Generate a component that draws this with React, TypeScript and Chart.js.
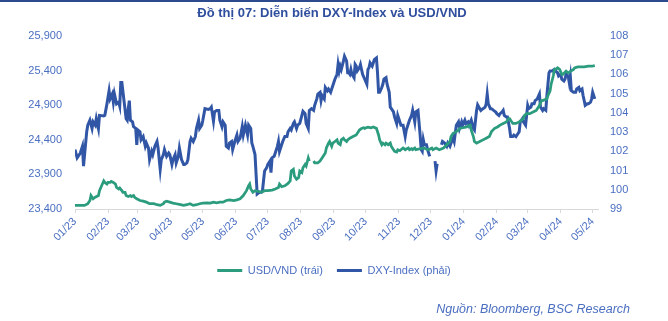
import React, { useEffect, useRef } from 'react';
import { Chart, registerables } from 'chart.js';

Chart.register(...registerables);

// ---- Data ----
const titleText = 'Đồ thị 07: Diễn biến DXY-Index và USD/VND';
const sourceText = 'Nguồn: Bloomberg, BSC Research';
const seriesNames = ['USD/VND (trái)', 'DXY-Index (phải)'];

// month tick labels (MM/YY)
const tickLabels = [
  '01/23', '02/23', '03/23', '04/23', '05/23', '06/23', '07/23', '08/23', '09/23',
  '10/23', '11/23', '12/23', '01/24', '02/24', '03/24', '04/24', '05/24',
];

// days since 2023-01-01
const usdVndDays = [
  0, 5, 9, 12, 14, 15, 17, 19, 22, 23, 25, 27, 28, 30, 31, 33, 34, 36, 38, 39, 41, 42, 44, 45, 47, 48,
  50, 52, 53, 55, 56, 58, 61, 64, 67, 70, 74, 77, 80, 83, 84, 86, 89, 92, 95, 98, 102, 105, 108, 111,
  114, 117, 120, 124, 127, 130, 133, 136, 139, 142, 145, 149, 152, 155, 158, 161, 163, 164, 165, 167,
  169, 172, 175, 178, 181, 185, 188, 191, 192, 194, 197, 200, 202, 203, 205, 206, 208, 210, 211, 213,
  214, 216, 217, 219, 220, 222, 224, 225, 228, 230, 231, 233, 235, 236, 238, 239, 241, 242, 244, 246,
  247, 249, 250, 252, 253, 255, 256, 258, 261, 264, 266, 267, 269, 271, 272, 275, 278, 280, 283, 285,
  286, 288, 289, 291, 292, 294, 296, 297, 299, 300, 302, 303, 305, 306, 308, 310, 311, 313, 314, 316,
  317, 319, 320, 324, 327, 332, 335, 336, 339, 342, 346, 349, 352, 353, 355, 358, 360, 361, 364, 367,
  371, 372, 374, 375, 377, 380, 383, 386, 389, 391, 394, 397, 399, 402, 405, 407, 408, 410, 411, 414,
  417, 421, 422, 424, 427, 430, 433, 436, 438, 439, 443, 444, 446, 447, 449, 450, 452, 453, 455, 457,
  458, 460, 461, 463, 464, 468, 469, 472, 475, 478, 482, 485, 488,
];
const usdVndValues = [
  23452, 23452, 23452, 23476, 23523, 23594, 23547, 23570, 23594, 23665, 23736, 23807, 23784, 23760, 23784, 23784, 23798, 23784, 23760, 23712, 23689, 23703, 23665, 23641, 23641, 23594,
  23580, 23594, 23580, 23594, 23570, 23547, 23523, 23514, 23499, 23476, 23476, 23462, 23452, 23476, 23499, 23514, 23499, 23485, 23476, 23466, 23452, 23462, 23476, 23452,
  23462, 23476, 23485, 23490, 23485, 23499, 23490, 23499, 23499, 23523, 23533, 23523, 23533, 23547, 23594, 23665, 23736, 23760, 23689, 23641,
  23665, 23656, 23641, 23665, 23665, 23674, 23689, 23712, 23760, 23722, 23736, 23769, 23807, 23949, 23973, 23878, 23831, 23855, 23949, 23926,
  23997, 24044, 24021, 24139, 24092, null, 24092, 24068, 24068, 24092, 24115, 24163, 24210, 24281, 24352, 24376, 24305, 24352, 24376, 24399,
  24352, 24329, 24399, 24423, 24399, 24376, 24399, 24423, 24447, 24470, 24518, 24541, 24565, 24574, 24565, 24584, 24574, 24584, 24565, 24470,
  24399, 24329, 24352, 24329, 24352, 24329, 24352, 24305, 24257, 24234, 24224, 24257, 24243, 24257, 24281, 24257, 24267, 24281, 24257, 24271,
  24257, 24281, 24257, 24271, 24281, 24257, 24281, 24257, 24281, 24257, 24281, 24329, 24376, 24447, 24494, 24518, 24541, 24565, 24574, 24584,
  24612, 24541, 24447, 24376, 24352, 24376, 24399, 24423, 24447, 24518, 24565, 24589, 24612, 24636, 24659, 24707, 24707, 24659, 24636, 24636,
  24659, 24707, 24754, 24778, 24778, 24801, 24825, 24896, 24967, 24967, 24991, 25038, 25109, 25203, 25321, 25416, 25425, 25439, 25416, 25345,
  25345, 25378, 25392, 25369, 25378, 25416, 25439, 25453, 25453, 25453, 25463, 25463, 25472,
];

const dxyDays = [
  0, 2, 5, 7, 8, 9, 11, 12, 14, 16, 17, 19, 20, 22, 23, 27, 28, 30, 32, 33, 35, 36, 37, 39, 41, 42, 43, 44,
  46, 48, 49, 50, 51, 52, 54, 55, 57, 58, 59, 61, 62, 64, 66, 67, 69, 70, 72, 73, 75, 77, 78, 80, 81, 83,
  84, 86, 88, 89, 91, 92, 94, 95, 97, 98, 100, 102, 103, 105, 106, 108, 109, 111, 113, 114, 116, 117, 119,
  120, 122, 125, 127, 128, 130, 131, 133, 135, 136, 138, 139, 141, 142, 144, 145, 147, 148, 150, 152, 153,
  155, 157, 158, 160, 162, 163, 165, 166, 167, 169, 170, 171, 173, 175, 176, 177, 178, 180, 181, 183, 184,
  185, 187, 188, 190, 191, 192, 194, 195, 197, 199, 200, 202, 203, 205, 206, 208, 209, 211, 213, 214, 216,
  217, 219, 220, 222, 224, 225, 227, 228, 230, 231, 232, 234, 235, 237, 238, 240, 241, 243, 244, 246, 247,
  248, 249, 250, 252, 253, 255, 256, 257, 258, 259, 260, 262, 263, 264, 265, 267, 268, 269, 270, 272, 274,
  275, 276, 277, 279, 280, 281, 283, 284, 285, 286, 288, 289, 290, 292, 293, 295, 296, 297, 299, 300, 302,
  303, 305, 306, 308, 310, 311, 313, 314, 316, 317, 319, 320, 322, 324, 325, 326, 327, 328, 330, 331, 333,
  334, 338, 339, 340, 341, 344, 345, 347, 349, 350, 352, 353, 355, 356, 358, 360, 361, 363, 364, 366, 367,
  369, 370, 372, 374, 375, 377, 378, 380, 381, 383, 385, 386, 387, 388, 390, 391, 393, 395, 396, 398, 399,
  401, 402, 403, 405, 406, 408, 409, 411, 412, 414, 415, 417, 418, 420, 421, 423, 425, 426, 428, 429, 431,
  432, 434, 436, 437, 439, 440, 442, 443, 445, 446, 448, 450, 451, 453, 454, 456, 457, 459, 460, 461, 463,
  464, 465, 466, 468, 470, 471, 473, 474, 476, 477, 479, 481, 482, 484, 485, 486, 488,
];
const dxyValues = [
  102.09, 101.66, 101.91, 102.26, 101.23, 101.83, 103.02, 103.36, 103.62, 103.19, 103.53, 103.36, 103.7, 103.19, 103.87, 103.84, 103.87, 104.47, 105.15, 104.73, 104.98, 104.56, 104.98, 104.47, 104.56, 104.35, 105.58, 105.58,
  104.64, 103.7, 103.62, 104.22, 104.64, 103.62, 103.53, 103.28, 103.19, 102.34, 103.11, 103.02, 102.6, 102.77, 102.26, 102.43, 102.17, 101.57, 102.0, 101.83, 102.26, 102.51, 102.17, 101.06, 101.57, 101.83,
  102.09, 101.74, 101.91, 101.83, 101.32, 101.57, 101.83, 101.4, 101.74, 102.17, 101.57, 101.32, 101.32, 101.4, 101.57, 102.51, 102.68, 102.51, 102.77, 103.19, 103.62, 103.19, 103.36,
  103.62, 104.22, 104.18, 104.22, 104.3, 103.57, 104.05, 104.13, 104.13, 103.62, 103.28, 103.53, 103.36, 102.26, 102.17, 102.43, 102.51, 102.09, 102.51, 102.85, 102.51,
  102.68, 103.28, 102.85, 103.36, 102.85, 103.36, 103.19, 102.43, 102.26, 101.83, 100.81, 99.78, 99.87, 99.87, 99.95, 100.47, 100.98, 101.15, 101.32, 101.49, 100.89,
  101.66, 101.74, 101.91, 102.26, 102.51, 102.0, 102.34, 102.51, 102.77, 102.77, 103.02, 103.19, 103.11, 103.45, 103.53, 103.19, 103.36, 103.45, 103.87, 104.08, 103.96,
  103.45, 103.19, 104.13, 104.22, 104.13, 104.39, 104.73, 104.98, 105.07, 104.64, 104.9, 104.73, 105.32, 105.15, 105.24, 105.07, 105.24, 105.58, 105.75, 106.01, 106.52,
  106.18, 106.43, 106.26, 106.69, 106.94, 106.69, 106.09, 106.09, 106.01, 106.26, 106.01, 105.83, 106.52, 106.43, 106.18, 106.35, 106.52, 106.26, 106.01, 105.75, 105.49,
  106.26, 106.35, 106.6, 106.43, 106.6, 106.77, 106.86, 106.09, 105.07, 105.07, 105.32, 105.49, 105.75, 105.83, 105.49, 105.07, 104.3, 104.22, 104.05, 103.79, 103.45,
  103.87, 103.53, 103.36, 103.36, 102.77, 103.11, 103.45, 103.62, 103.87, 104.13, 103.53, 104.05, 104.13, 102.85, 102.09, 102.0, 102.6, 102.34, 102.34, 102.09, 101.74,
  null, 101.49, 100.98, 101.35, null, 102.34, 102.51, 102.43, 102.26, 102.43, 102.26, 102.43, 102.68, 102.51, 103.36, 103.53, 103.19, 103.53, 103.36, 103.62, 103.45,
  103.53, 103.36, 103.62, 103.19, 103.11, 104.13, 104.42, 104.22, 104.13, 104.22, 104.3, 104.47, 104.98, 104.47, 104.22, 104.22, 104.13, 104.05, 103.96, 103.87, 103.96,
  104.05, 104.13, 103.87, 103.79, 103.79, 103.19, 102.77, 102.77, 102.85, 102.77, 102.85, 103.02, 103.53, 103.7, 103.53, 103.36, 104.39, 104.22, 104.3, 104.47, 104.47,
  104.64, 104.73, 104.98, 104.3, 104.13, 104.22, 104.13, 104.9, 106.09, 106.18, 106.18, 106.26, 106.18, 106.09, 105.92, 106.01, 105.75, 105.66, 105.75, 106.01, 105.92,
  105.58, 105.92, 105.15, 105.07, 105.07, 105.24, 105.32, 105.15, 105.24, 104.9, 104.39, 104.47, 104.47, 104.56, 104.73, 105.07, 104.73,
];

// ---- Helpers ----
const DAY_MS = 86400000;
const BASE = Date.UTC(2023, 0, 1);
const tickDays = tickLabels.map((l) => {
  const [mm, yy] = l.split('/').map(Number);
  return Math.round((Date.UTC(2000 + yy, mm - 1, 1) - BASE) / DAY_MS);
});

const GREEN = '#2C9C7E';
const BLUE = '#3156A6';
const TEXT_BLUE = '#4A6EC0';
const TITLE_BLUE = '#2F4E9E';
const FONT = "'Liberation Sans', Arial, sans-serif";

const decorPlugin = {
  id: 'decor',
  afterDraw(chart: any) {
    const ctx = chart.ctx as CanvasRenderingContext2D;
    ctx.save();
    ctx.fillStyle = '#2E4A8F';
    ctx.fillRect(0, 0, chart.width, 2);
    ctx.font = `bold 13px ${FONT}`;
    ctx.fillStyle = TITLE_BLUE;
    ctx.textAlign = 'center';
    ctx.textBaseline = 'middle';
    ctx.fillText(titleText, 332, 13);
    ctx.font = `italic 12.5px ${FONT}`;
    ctx.fillStyle = TEXT_BLUE;
    ctx.textAlign = 'right';
    ctx.fillText(sourceText, 630, 310);
    ctx.restore();
  },
};

export default function App() {
  const canvasRef = useRef<HTMLCanvasElement | null>(null);

  useEffect(() => {
    if (!canvasRef.current) return;
    Chart.defaults.font.family = FONT;
    const usdData = usdVndDays.map((d, i) => ({ x: d, y: usdVndValues[i] }));
    const dxyData = dxyDays.map((d, i) => ({ x: d, y: dxyValues[i] }));

    const chart = new Chart(canvasRef.current, {
      type: 'line',
      data: {
        datasets: [
          {
            label: seriesNames[0],
            data: usdData as any,
            borderColor: GREEN,
            backgroundColor: GREEN,
            borderWidth: 2.75,
            pointRadius: 0,
            tension: 0,
            spanGaps: false,
            yAxisID: 'yLeft',
          },
          {
            label: seriesNames[1],
            data: dxyData as any,
            borderColor: BLUE,
            backgroundColor: BLUE,
            borderWidth: 3,
            pointRadius: 0,
            tension: 0,
            spanGaps: false,
            yAxisID: 'yRight',
          },
        ],
      },
      options: {
        responsive: false,
        devicePixelRatio: 1,
        animation: false,
        layout: { padding: { left: 0, right: 0, top: 36, bottom: 35 } },
        plugins: {
          tooltip: { enabled: false },
          title: { display: false },
          legend: {
            display: true,
            position: 'bottom',
            labels: {
              boxWidth: 25,
              boxHeight: 3,
              padding: 14,
              color: TEXT_BLUE,
              font: { size: 11, family: FONT },
              generateLabels: (c: any) => {
                const items = Chart.defaults.plugins.legend.labels.generateLabels(c);
                return items.map((it: any) => ({ ...it, lineWidth: 0 }));
              },
            },
          },
        },
        scales: {
          x: {
            type: 'linear',
            min: 0,
            max: 491,
            afterBuildTicks: (scale: any) => {
              scale.ticks = tickDays.map((v) => ({ value: v }));
            },
            afterFit: (scale: any) => {
              scale.height = 42;
            },
            ticks: {
              autoSkip: false,
              minRotation: 45,
              maxRotation: 45,
              padding: 2,
              color: TEXT_BLUE,
              font: { size: 11, family: FONT },
              callback: (value: any) => {
                const idx = tickDays.indexOf(Number(value));
                return idx >= 0 ? tickLabels[idx] : '';
              },
            },
            grid: {
              display: true,
              drawOnChartArea: false,
              drawTicks: true,
              tickLength: 4,
              color: '#D9D9D9',
            },
            border: { display: true, color: '#D9D9D9', width: 1 },
          },
          yLeft: {
            type: 'linear',
            position: 'left',
            min: 23400,
            max: 25900,
            afterFit: (scale: any) => {
              scale.width = 75;
            },
            ticks: {
              stepSize: 500,
              padding: 13,
              color: TEXT_BLUE,
              font: { size: 11, family: FONT },
              callback: (v: any) => Number(v).toLocaleString('en-US'),
            },
            grid: { display: false, drawTicks: false },
            border: { display: false },
          },
          yRight: {
            type: 'linear',
            position: 'right',
            min: 99,
            max: 108,
            afterFit: (scale: any) => {
              scale.width = 70;
            },
            ticks: {
              stepSize: 1,
              padding: 12,
              color: TEXT_BLUE,
              font: { size: 11, family: FONT },
            },
            grid: { display: false, drawTicks: false },
            border: { display: false },
          },
        },
      },
      plugins: [decorPlugin],
    });
    return () => chart.destroy();
  }, []);

  return (
    <div style={{ position: 'absolute', left: 0, top: 0, width: 668, height: 321, background: '#fff' }}>
      <canvas ref={canvasRef} width={668} height={321} style={{ display: 'block' }} />
    </div>
  );
}
